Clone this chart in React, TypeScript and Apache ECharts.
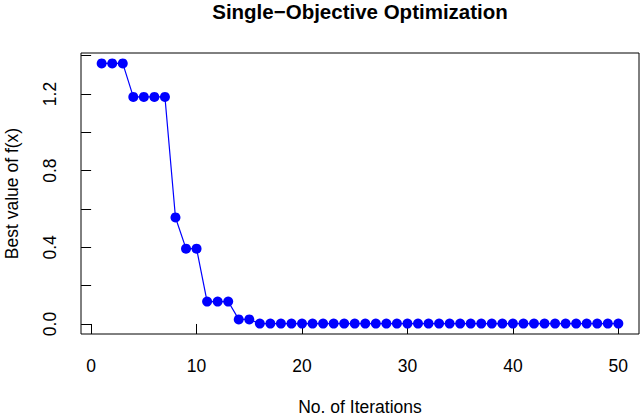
import React, { useEffect, useRef } from "react";
import * as echarts from "echarts";

const iterations = Array.from({ length: 50 }, (_, i) => i + 1);
const bestValues = [
  1.36, 1.36, 1.36, 1.185, 1.185, 1.185, 1.185, 0.556, 0.393, 0.393,
  0.117, 0.117, 0.117, 0.024, 0.024, 0.002, 0.002, 0.002, 0.002, 0.002,
  0.002, 0.002, 0.002, 0.002, 0.002, 0.002, 0.002, 0.002, 0.002, 0.002,
  0.002, 0.002, 0.002, 0.002, 0.002, 0.002, 0.002, 0.002, 0.002, 0.002,
  0.002, 0.002, 0.002, 0.002, 0.002, 0.002, 0.002, 0.002, 0.002, 0.002,
];
const xTicks = [0, 10, 20, 30, 40, 50];
const yTicks = [0, 0.2, 0.4, 0.6, 0.8, 1.0, 1.2, 1.4];
const yLabels = [0, 0.4, 0.8, 1.2];
const titleText = "Single\u2212Objective Optimization";
const xTitle = "No. of Iterations";
const yTitle = "Best value of f(x)";

const FONT = "'Liberation Sans', Arial, Helvetica, sans-serif";

export default function App() {
  const ref = useRef<HTMLDivElement>(null);
  useEffect(() => {
    if (!ref.current) return;
    const chart = echarts.init(ref.current, undefined, { renderer: "svg" });
    const xMin = 1, xMax = 50;
    const xPad = (xMax - xMin) * 0.04;
    const yMinD = Math.min(...bestValues), yMaxD = Math.max(...bestValues);
    const yPad = (yMaxD - yMinD) * 0.04;
    const gridLeft = 81, gridTop = 53, gridRight = 1, gridBottom = 416 - 334;
    const cx = (gridLeft + 640 - gridRight) / 2;
    chart.setOption({
      animation: false,
      backgroundColor: "#ffffff",
      title: {
        text: titleText,
        left: cx,
        textAlign: "center",
        top: 1,
        padding: 0,
        textStyle: { fontFamily: FONT, fontWeight: "bold", fontSize: 20.5, color: "#000" },
      },
      grid: {
        left: gridLeft,
        top: gridTop,
        right: gridRight,
        bottom: gridBottom,
        show: true,
        borderColor: "#000",
        borderWidth: 1,
        backgroundColor: "transparent",
      },
      xAxis: {
        type: "value",
        min: xMin - xPad,
        max: xMax + xPad,
        axisLine: { show: false },
        splitLine: { show: false },
        axisTick: {
          show: true,
          inside: false,
          length: 10,
          customValues: xTicks,
          lineStyle: { color: "#000", width: 1 },
        },
        axisLabel: {
          customValues: xTicks,
          margin: 23,
          fontFamily: FONT,
          fontSize: 17.5,
          color: "#000",
        },
      },
      yAxis: {
        type: "value",
        min: yMinD - yPad,
        max: yMaxD + yPad,
        axisLine: { show: false },
        splitLine: { show: false },
        axisTick: {
          show: true,
          inside: false,
          length: 10,
          customValues: yTicks,
          lineStyle: { color: "#000", width: 1 },
        },
        axisLabel: {
          customValues: yLabels,
          rotate: 90,
          margin: 22,
          fontFamily: FONT,
          fontSize: 17.5,
          color: "#000",
          formatter: (v: number) => v.toFixed(1),
        },
      },
      graphic: [
        {
          type: "text",
          x: cx,
          y: 407,
          style: {
            text: xTitle,
            fontFamily: FONT,
            fontSize: 17.5,
            fill: "#000",
            textAlign: "center",
            textVerticalAlign: "middle",
          },
        },
        {
          type: "text",
          x: 12,
          y: (gridTop + 334) / 2,
          rotation: Math.PI / 2,
          style: {
            text: yTitle,
            fontFamily: FONT,
            fontSize: 17.5,
            fill: "#000",
            textAlign: "center",
            textVerticalAlign: "middle",
          },
        },
      ],
      series: [
        {
          type: "line",
          data: iterations.map((x, i) => [x, bestValues[i]]),
          symbol: "circle",
          symbolSize: 10,
          showSymbol: true,
          lineStyle: { color: "#0000ff", width: 1.2 },
          itemStyle: { color: "#0000ff" },
          clip: false,
        },
      ],
    });
    return () => chart.dispose();
  }, []);
  return (
    <div
      ref={ref}
      style={{ position: "fixed", left: 0, top: 0, width: 640, height: 416 }}
    />
  );
}
